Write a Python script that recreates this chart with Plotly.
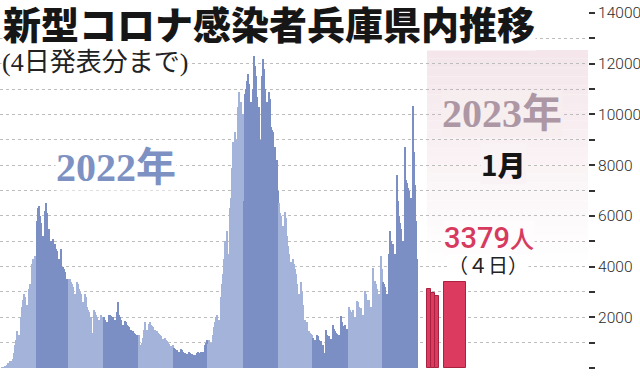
import plotly.graph_objects as go

# ---------------- data (daily new cases, Hyogo) ----------------
jan = [16, 25, 20, 40, 60, 110, 190, 290, 270, 230, 350, 600, 900, 1100, 1450, 1300,
       900, 2000, 2400, 2700, 2900, 2800, 2500, 1500, 3100, 3300, 3200, 4100, 4300, 4400, 3000]
feb = [5800, 6300, 6400, 6000, 5700, 5200, 3400, 6200, 6500, 6100, 5400, 5500, 5000, 3200,
       5100, 4800, 4900, 4700, 4600, 4300, 2800, 4700, 3600, 4000, 3900, 3800, 3500, 2300]
mar = [3500, 3500, 3400, 3300, 3200, 2900, 1900, 3400, 3300, 3100, 3000, 2900, 2600, 1400,
       2900, 2800, 2400, 2300, 2200, 2000, 600, 1400, 2300, 2200, 2100, 2000, 1900, 1000,
       2100, 2000, 1850]
apr = [2000, 1900, 1800, 950, 2100, 2100, 2050, 2000, 2000, 1900, 1000, 2200, 2600, 2100,
       2000, 1900, 1700, 700, 1850, 1800, 1700, 1650, 1600, 1500, 800, 1450, 1400, 1350, 900, 1300]
may = [1300, 700, 900, 1000, 1200, 1500, 1800, 1500, 600, 1750, 1800, 1700, 1650, 1600,
       1500, 600, 1450, 1400, 1350, 1300, 1250, 1150, 500, 1200, 1100, 1050, 1000, 950, 850, 400, 900]
jun = [800, 750, 720, 700, 650, 300, 750, 700, 650, 600, 600, 550, 250, 650, 600, 560,
       550, 530, 500, 230, 600, 620, 580, 600, 650, 620, 300, 900, 1000, 1100]
jul = [950, 1100, 1000, 600, 1300, 1600, 1800, 2000, 2100, 1900, 900, 2800, 3300, 3700,
       4300, 5000, 5400, 2400, 4500, 6300, 6700, 7900, 8900, 9300, 5500, 9000, 10300, 10900,
       10200, 10500, 10000]
aug = [6600, 10800, 11000, 11300, 11600, 11200, 10500, 7800, 11000, 12300, 11900, 11500,
       10700, 10300, 5800, 9000, 11500, 12200, 11800, 11000, 10500, 7300, 10900, 10600, 9500,
       9400, 9300, 8700, 4800, 8200, 7000]
sep = [6500, 6100, 6000, 5600, 3700, 6150, 5900, 5200, 4800, 4500, 4200, 2600, 4300, 4100,
       3900, 3700, 3300, 2900, 950, 3400, 3000, 2500, 1500, 1900, 1800, 800, 1450, 1400, 1350, 1300]
oct_ = [1200, 1100, 550, 1300, 1250, 1100, 1000, 1050, 900, 350, 600, 1500, 1300, 1200,
        1250, 1150, 500, 1700, 1550, 1450, 1400, 1350, 1300, 600, 2050, 1800, 1650, 1600,
        1700, 1550, 700]
nov = [2400, 2300, 1300, 2200, 2300, 2000, 900, 2650, 2600, 2400, 2300, 2350, 2100, 1000,
       3050, 2900, 2700, 2600, 2700, 2400, 1100, 3950, 2300, 3450, 3300, 3100, 2900, 1400,
       4400, 3900]
dec = [3400, 3300, 3200, 2900, 1450, 4500, 5400, 5000, 4800, 4900, 4500, 1800, 7600, 6600,
       6000, 5700, 5500, 5000, 2500, 8700, 7400, 7300, 7100, 7000, 6700, 3300, 10350, 8500,
       7200, 5800, 4300]
months_2022 = [jan, feb, mar, apr, may, jun, jul, aug, sep, oct_, nov, dec]

days_2023 = ["1日", "2日", "3日", "4日"]
values_2023 = [3110, 2940, 2820, 3379]

y_ticks = [0, 2000, 4000, 6000, 8000, 10000, 12000, 14000]
y_tick_labels = ["0", "2000", "4000", "6000", "8000", "10000", "12000", "14000"]

# ---------------- layout helpers ----------------
W, H = 640, 377
ML, MR, MT, MB = 0, 52, 13, 9
PW, PH = W - ML - MR, H - MT - MB


def xp(px):
    return (px - ML) / PW


def yp(py):
    return (H - MB - py) / PH


LIGHT = "#a3b3d9"
DARK = "#7b8fc5"
PINK = (244, 230, 234)


def blend(a):
    r, g, b = (round(255 + (c - 255) * a) for c in PINK)
    return f"rgb({r},{g},{b})"


vals = []
cols = []
for i, m in enumerate(months_2022):
    vals += m
    cols += [LIGHT if i % 2 == 0 else DARK] * len(m)
days = list(range(len(vals)))

fig = go.Figure()
fig.add_trace(go.Bar(x=days, y=vals, marker=dict(color=cols, line=dict(width=0)),
                     xaxis="x", yaxis="y", hoverinfo="skip"))
fig.add_trace(go.Bar(x=[1, 2, 3, 4], y=values_2023,
                     width=[1, 1, 1, 5.5], offset=[-0.5, -0.5, -0.5, 0.75],
                     marker=dict(color="#dc3a5e", line=dict(color="#a9223f", width=1)),
                     xaxis="x2", yaxis="y", hoverinfo="skip", text=days_2023,
                     textposition="none"))

# x scales: 2022 bars span px 1..418, 2023 bars 4 px per unit starting at px 427
s1 = (418 - 1) / len(vals)
r0 = -0.5 - (1 - ML) / s1
r0b = 0.5 - (427 - ML) / 4

GRID = "#bdbdbd"
fig.update_layout(
    width=W, height=H,
    margin=dict(l=ML, r=MR, t=MT, b=MB, pad=0, autoexpand=False),
    paper_bgcolor="white", plot_bgcolor="white",
    showlegend=False, bargap=0,
    xaxis=dict(range=[r0, r0 + PW / s1], visible=False, showgrid=False, automargin=False),
    xaxis2=dict(range=[r0b, r0b + PW / 4], overlaying="x", visible=False, showgrid=False,
                automargin=False),
    yaxis=dict(range=[0, 14000], side="right", tickvals=y_ticks, ticktext=y_tick_labels,
               automargin=False,
               ticks="outside", ticklen=6, tickwidth=2, tickcolor="#333",
               showgrid=True, gridcolor=GRID, griddash="dot", gridwidth=1,
               zeroline=False, showline=False, ticklabelstandoff=0,
               tickfont=dict(family="Liberation Sans Narrow, Roboto, Liberation Sans",
                             size=15.5, color="#2b2b2b", weight=300),
               minor=dict(dtick=1000, ticks="outside", ticklen=6, tickwidth=2, tickcolor="#333",
                          showgrid=True, gridcolor=GRID, griddash="dot", gridwidth=1)),
)

# pink fading panel behind 2023
top_px, bot_px, n = 50, 262, 24
shapes = []
for k in range(n):
    y0 = top_px + (bot_px - top_px) * k / n
    y1 = top_px + (bot_px - top_px) * (k + 1) / n
    a = 1 - k / n
    shapes.append(dict(type="rect", xref="paper", yref="paper", layer="below",
                       x0=xp(427), x1=1, y0=yp(y1), y1=yp(y0),
                       fillcolor=blend(a), line=dict(width=0)))
fig.update_layout(shapes=shapes)


def fade_at(py):
    return max(0.0, 1 - (py - top_px) / (bot_px - top_px))


CJK = "Noto Sans CJK JP"
SERIF = "Liberation Serif, DejaVu Serif, Noto Sans CJK JP"
ann = [
    dict(text="新型コロナ感染者兵庫県内推移", x=xp(2), y=yp(23), xanchor="left", yanchor="middle",
         font=dict(family=CJK, size=38, color="#161616", weight=900), bgcolor="white"),
    dict(text="(4日発表分まで)", x=xp(1), y=yp(62), xanchor="left", yanchor="middle",
         font=dict(family=SERIF, size=26, color="#222"), bgcolor="white"),
    dict(text="2022年", x=xp(116), y=yp(167), xanchor="center", yanchor="middle",
         font=dict(family=SERIF, size=40, color="#7d91c2", weight="bold"), bgcolor="white"),
    dict(text="2023年", x=xp(502), y=yp(114), xanchor="center", yanchor="middle",
         font=dict(family=SERIF, size=40, color="#ad97a4", weight="bold"),
         bgcolor=blend(fade_at(114))),
    dict(text="<b>1</b>月", x=xp(503), y=yp(164), xanchor="center", yanchor="middle",
         font=dict(family=CJK, size=28, color="#151515", weight=900), bgcolor=blend(fade_at(164))),
    dict(text="3379<span style='font-size:24px'>人</span>", x=xp(489), y=yp(238),
         xanchor="center", yanchor="middle",
         font=dict(family="Roboto, Liberation Sans, " + CJK, size=29, color="#d63a5e", weight=500),
         bgcolor=blend(fade_at(238))),
    dict(text="（４日）", x=xp(488), y=yp(266), xanchor="center", yanchor="middle",
         font=dict(family=SERIF, size=20, color="#222"), bgcolor="white"),
]
for a in ann:
    a.update(xref="paper", yref="paper", showarrow=False, borderpad=0)
fig.update_layout(annotations=ann)

fig.write_html("out.html", config={"displayModeBar": False},
               post_script="document.body.style.margin='0';document.body.style.padding='0';")
